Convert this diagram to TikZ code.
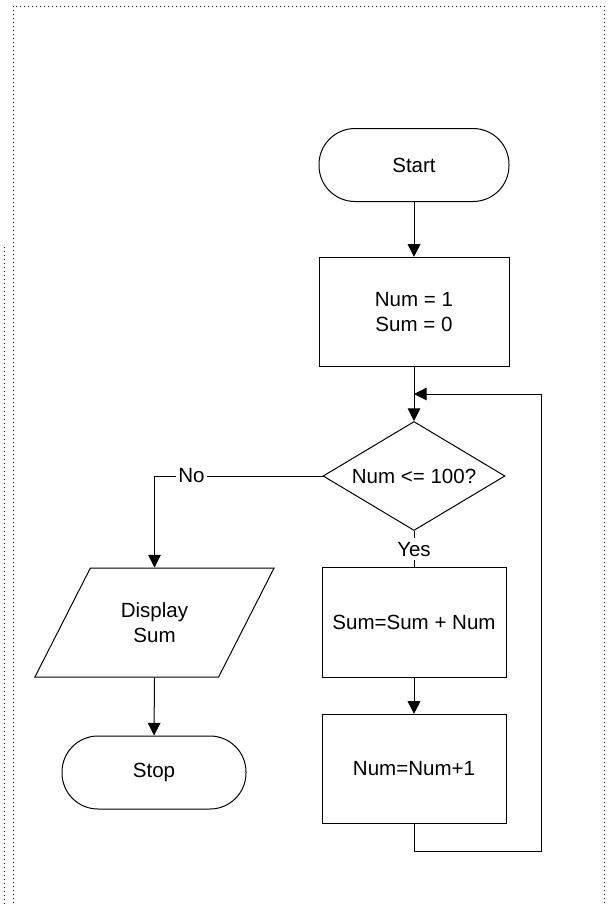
\documentclass[tikz,border=0pt]{standalone}
\usepackage{fontspec}
\setmainfont{Liberation Sans}
\usetikzlibrary{shapes.geometric,arrows.meta}
\tikzset{every picture/.style={line width=0.75pt}}
\tikzset{
  flow/.style={draw, align=center, inner sep=0pt, font=\fontsize{15.4}{18.75}\selectfont},
  termbox/.style={flow, rectangle, rounded corners=27pt, minimum height=54.75pt},
  procbox/.style={flow, rectangle, minimum height=82pt},
  decbox/.style={flow, diamond, shape aspect=1.67, minimum width=136.5pt, minimum height=81.75pt},
  iobox/.style={flow, trapezium, trapezium left angle=63, trapezium right angle=117,
    inner xsep=0pt, inner ysep=6.4pt, minimum height=81.75pt},
  arr/.style={-{Triangle[length=9.5pt,width=9.5pt]}},
  lbl/.style={fill=white, inner sep=2pt, font=\fontsize{15.4}{18.75}\selectfont},
  pageline/.style={dash pattern=on 0.75pt off 2.25pt}
}

\begin{document}
\begin{tikzpicture}[x=0.75pt,y=0.75pt,yscale=-1,xscale=1]
\useasboundingbox (0,0) rectangle (608,904);

%Dotted page frames
\draw [pageline] (13,915) -- (13,6) -- (604,6) -- (604,915) ;
\draw [pageline] (4,247) -- (4,915) ;

%Flowchart: Terminator
\node [termbox, minimum width=142.5pt] (start) at (414,165) {Start};
%Flowchart: Process
\node [procbox, minimum width=142.5pt] (init) at (414,312) {Num = 1\\Sum = 0};
%Flowchart: Decision
\node [decbox] (test) at (414,476) {Num <= 100?};
%Flowchart: Data
\node [iobox] (show) at (154.5,622.5) {Display\\Sum};
%Flowchart: Terminator
\node [termbox, minimum width=138pt] (stop) at (154,772.5) {Stop};
%Flowchart: Process
\node [procbox, minimum width=138pt] (add) at (414,622.5) {Sum=Sum + Num};
%Flowchart: Process
\node [procbox, minimum width=138pt] (incr) at (414,769) {Num=Num+1};

%Loop corners
\coordinate (loopbot) at (541,851);
\coordinate (looptop) at (541,394);
\coordinate (loopin) at (414,394);

%Straight Lines
\draw [arr] (start) -- (init) ;
\draw [arr] (init) -- (test) ;
\draw [arr] (test.west) -- node [lbl, pos=0.78] {No} (test.west -| show.north) -- (show.north) ;
\draw (test.south) -- node [lbl, inner sep=3pt] {Yes} (add.north) ;
\draw [arr] (show.south) -- (stop.north) ;
\draw [arr] (add) -- (incr) ;
\draw [arr] (incr.south) |- (loopbot) -- (looptop) -- (loopin) ;

\end{tikzpicture}
\end{document}
